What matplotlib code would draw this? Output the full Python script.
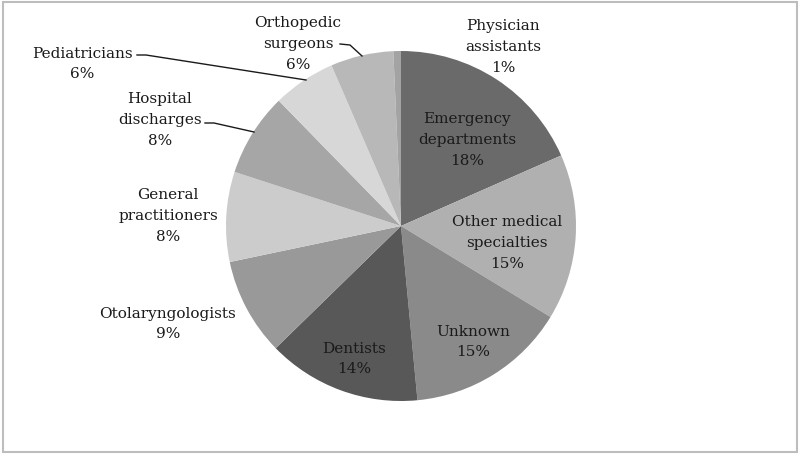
import matplotlib.pyplot as plt
from matplotlib.patches import Rectangle

# slices clockwise from 12 o'clock
categories = [
    "Emergency\ndepartments",
    "Other medical\nspecialties",
    "Unknown",
    "Dentists",
    "Otolaryngologists",
    "General\npractitioners",
    "Hospital\ndischarges",
    "Pediatricians",
    "Orthopedic\nsurgeons",
    "Physician\nassistants",
]
shares = [18.4, 15.3, 14.8, 14.2, 9.0, 8.3, 7.7, 5.8, 5.8, 0.7]
colors = ["#6a6a6a", "#b0b0b0", "#8a8a8a", "#585858", "#999999",
          "#cccccc", "#a6a6a6", "#d7d7d7", "#b8b8b8", "#a3a3a3"]

# label centres in pixel coords (x, y from top)
label_pos = [(467, 140), (507, 243), (473, 342), (354, 359), (168, 324),
             (168, 216), (160, 120), (82, 64), (298, 44), (503, 47)]
# leader lines (pixel coords) for outside labels
leaders = {
    6: [(205, 124), (214, 124), (254, 133)],
    7: [(137, 56), (146, 56), (306, 81)],
    8: [(340, 45), (350, 46), (362, 57)],
}

H = 456
plt.rcParams["font.family"] = ["DejaVu Serif"]

fig = plt.figure(figsize=(8, 4.56), dpi=100)
ax = fig.add_axes([0, 0, 1, 1])

ax.pie(shares, colors=colors, startangle=90, counterclock=False,
       center=(401, H - 227), radius=175, frame=True,
       wedgeprops=dict(linewidth=0))
ax.set_xlim(0, 800)
ax.set_ylim(0, H)
ax.set_aspect("equal")
ax.axis("off")

for name, val, (x, y) in zip(categories, shares, label_pos):
    ax.text(x, H - y, f"{name}\n{round(val):.0f}%", ha="center", va="center",
            fontsize=11, color="#1a1a1a", linespacing=1.6)

for pts in leaders.values():
    xs = [p[0] for p in pts]
    ys = [H - p[1] for p in pts]
    ax.plot(xs, ys, color="#1a1a1a", lw=1.0)

fig.patches.append(Rectangle((3 / 800, 3 / H), 794 / 800, (H - 6) / H,
                             transform=fig.transFigure, fill=False,
                             edgecolor="#bdbdbd", lw=1.5))

fig.savefig("out.png", dpi=100)
